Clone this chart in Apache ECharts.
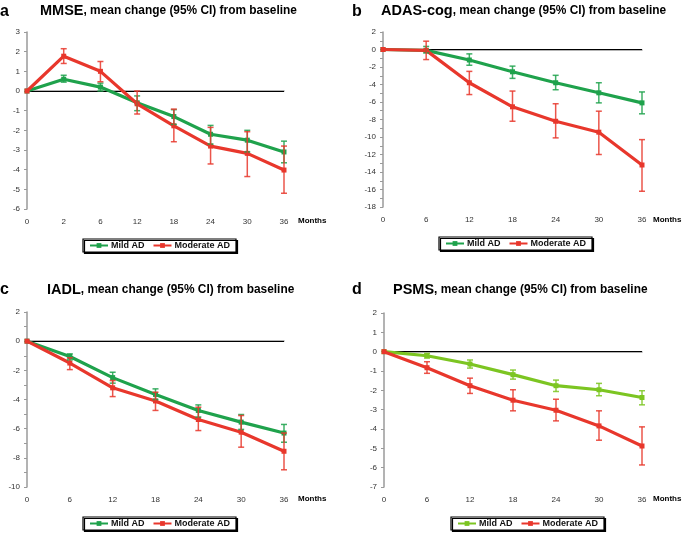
<!DOCTYPE html>
<html>
<head>
<meta charset="utf-8">
<script src="https://cdn.jsdelivr.net/npm/echarts@6/dist/echarts.min.js"></script>
<style>html,body{margin:0;padding:0;background:#fff}#c{width:685px;height:533px}</style>
</head>
<body>
<div id="c"></div>
<script>
// ---- categories (months) ----
const monthsA = ['0','2','6','12','18','24','30','36'];
const monthsB = ['0','6','12','18','24','30','36'];

// ---- a: MMSE ----
const mmseMild    = [0, 0.6, 0.2, -0.6, -1.3, -2.2, -2.5, -3.1];
const mmseMildLo  = [null, 0.45, 0.0, -1.0, -1.7, -2.7, -3.1, -3.65];
const mmseMildHi  = [null, 0.8, 0.4, -0.25, -0.95, -1.75, -2.0, -2.55];
const mmseMod     = [0, 1.77, 1.0, -0.65, -1.77, -2.8, -3.17, -4.02];
const mmseModLo   = [null, 1.4, 0.47, -1.17, -2.58, -3.71, -4.35, -5.2];
const mmseModHi   = [null, 2.15, 1.5, 0.0, -0.92, -1.85, -2.07, -2.8];

// ---- b: ADAS-cog ----
const adasMild    = [0, -0.1, -1.2, -2.55, -3.8, -4.95, -6.1];
const adasMildLo  = [null, -0.4, -1.8, -3.3, -4.6, -6.1, -7.35];
const adasMildHi  = [null, 0.35, -0.5, -1.9, -2.95, -3.8, -4.85];
const adasMod     = [0, -0.1, -3.8, -6.55, -8.2, -9.45, -13.2];
const adasModLo   = [null, -1.15, -5.15, -8.2, -10.1, -12.0, -16.2];
const adasModHi   = [null, 0.95, -2.5, -4.75, -6.2, -7.05, -10.3];

// ---- c: IADL ----
const iadlMild    = [0, -1.05, -2.5, -3.65, -4.75, -5.55, -6.3];
const iadlMildLo  = [null, -1.28, -2.88, -4.0, -5.2, -6.05, -6.93];
const iadlMildHi  = [null, -0.87, -2.13, -3.27, -4.37, -5.03, -5.71];
const iadlMod     = [0, -1.5, -3.2, -4.1, -5.37, -6.24, -7.55];
const iadlModLo   = [null, -1.95, -3.8, -4.75, -6.13, -7.27, -8.82];
const iadlModHi   = [null, -1.14, -2.7, -3.5, -4.53, -5.1, -6.3];

// ---- d: PSMS ----
const psmsMild    = [0, -0.21, -0.64, -1.19, -1.76, -1.97, -2.37];
const psmsMildLo  = [null, -0.33, -0.85, -1.42, -2.06, -2.28, -2.75];
const psmsMildHi  = [null, -0.09, -0.43, -0.95, -1.47, -1.64, -2.02];
const psmsMod     = [0, -0.83, -1.76, -2.51, -3.03, -3.84, -4.88];
const psmsModLo   = [null, -1.12, -2.16, -3.06, -3.58, -4.58, -5.86];
const psmsModHi   = [null, -0.52, -1.37, -1.97, -2.46, -3.06, -3.89];

// ---- y-axis ranges ----
const yRanges = [
  {min: -6, max: 3, interval: 1, minor: false},
  {min: -18, max: 2, interval: 2, minor: true},
  {min: -10, max: 2, interval: 2, minor: true},
  {min: -7, max: 2, interval: 1, minor: false}
];

const GREEN = '#1fa24c', GREEN_D = '#7cc522', RED = '#e8372c';
const FONT = 'Liberation Sans, Arial, sans-serif';

const panels = [
  {key:'a', cats: monthsA, mild: mmseMild, mildLo: mmseMildLo, mildHi: mmseMildHi, mod: mmseMod, modLo: mmseModLo, modHi: mmseModHi, green: GREEN},
  {key:'b', cats: monthsB, mild: adasMild, mildLo: adasMildLo, mildHi: adasMildHi, mod: adasMod, modLo: adasModLo, modHi: adasModHi, green: GREEN},
  {key:'c', cats: monthsB, mild: iadlMild, mildLo: iadlMildLo, mildHi: iadlMildHi, mod: iadlMod, modLo: iadlModLo, modHi: iadlModHi, green: GREEN},
  {key:'d', cats: monthsB, mild: psmsMild, mildLo: psmsMildLo, mildHi: psmsMildHi, mod: psmsMod, modLo: psmsModLo, modHi: psmsModHi, green: GREEN_D}
];

const grids = [
  {left: 27, top: 32, width: 257, height: 177},
  {left: 383, top: 32, width: 259, height: 175},
  {left: 27, top: 312, width: 257, height: 175},
  {left: 384, top: 313, width: 258, height: 174}
];

const legendPos = [
  {left: 83, top: 239},
  {left: 439, top: 237},
  {left: 83, top: 517},
  {left: 451, top: 517}
];

function ciData(lo, hi) {
  const out = [];
  lo.forEach((v, i) => { if (v !== null && hi[i] !== null) out.push([i, v, hi[i]]); });
  return out;
}

function errItem(params, api) {
  const x = api.value(0);
  const p1 = api.coord([x, api.value(1)]);
  const p2 = api.coord([x, api.value(2)]);
  const c = api.visual('color');
  const w = 3;
  const st = {stroke: c, lineWidth: 1.5, opacity: 0.85};
  return {type: 'group', children: [
    {type: 'line', shape: {x1: p1[0], y1: p1[1], x2: p2[0], y2: p2[1]}, style: st},
    {type: 'line', shape: {x1: p1[0]-w, y1: p1[1], x2: p1[0]+w, y2: p1[1]}, style: st},
    {type: 'line', shape: {x1: p2[0]-w, y1: p2[1], x2: p2[0]+w, y2: p2[1]}, style: st}
  ]};
}

const xAxis = [], yAxis = [], series = [], legend = [];
panels.forEach((p, i) => {
  xAxis.push({
    gridIndex: i, type: 'category', data: p.cats, boundaryGap: false,
    axisLine: {lineStyle: {color: '#9a9a9a', width: 1.5}},
    axisTick: {show: false},
    axisLabel: {fontSize: 8, color: '#333', margin: 9, fontFamily: FONT},
    splitLine: {show: false}
  });
  const yr = yRanges[i];
  yAxis.push({
    gridIndex: i, type: 'value', min: yr.min, max: yr.max, interval: yr.interval,
    axisLine: {show: true, lineStyle: {color: '#9a9a9a', width: 1.5}},
    axisTick: {show: true, length: 3, lineStyle: {color: '#9a9a9a'}},
    minorTick: {show: yr.minor, splitNumber: 2, length: 3, lineStyle: {color: '#9a9a9a'}},
    axisLabel: {fontSize: 8, color: '#333', margin: 7, fontFamily: FONT},
    splitLine: {show: false}
  });
  const mildName = 'Mild AD|' + p.key, modName = 'Moderate AD|' + p.key;
  series.push({
    name: mildName, type: 'line', xAxisIndex: i, yAxisIndex: i, data: p.mild,
    symbol: 'rect', symbolSize: 5, color: p.green,
    lineStyle: {width: 3.2, color: p.green}, itemStyle: {color: p.green},
    z: 3, silent: true,
    markLine: {silent: true, symbol: 'none', label: {show: false},
      lineStyle: {color: '#000', width: 1, type: 'solid'}, data: [{yAxis: 0}], z: 1}
  });
  series.push({
    name: modName, type: 'line', xAxisIndex: i, yAxisIndex: i, data: p.mod,
    symbol: 'rect', symbolSize: 5, color: RED,
    lineStyle: {width: 3.2, color: RED}, itemStyle: {color: RED},
    z: 4, silent: true
  });
  series.push({
    name: 'ci-mild-' + p.key, type: 'custom', xAxisIndex: i, yAxisIndex: i,
    renderItem: errItem, data: ciData(p.mildLo, p.mildHi), itemStyle: {color: p.green},
    encode: {x: 0, y: [1, 2]}, z: 5, silent: true
  });
  series.push({
    name: 'ci-mod-' + p.key, type: 'custom', xAxisIndex: i, yAxisIndex: i,
    renderItem: errItem, data: ciData(p.modLo, p.modHi), itemStyle: {color: RED},
    encode: {x: 0, y: [1, 2]}, z: 6, silent: true
  });
  legend.push({
    left: legendPos[i].left, top: legendPos[i].top,
    data: [mildName, modName],
    formatter: n => n.split('|')[0],
    itemWidth: 18, itemHeight: 6, itemGap: 8,
    padding: [2, 6, 2, 6],
    borderColor: '#000', borderWidth: 1.2, backgroundColor: '#fff',
    shadowColor: '#000', shadowOffsetX: 1.5, shadowOffsetY: 1.5, shadowBlur: 0,
    selectedMode: false,
    textStyle: {fontSize: 9, fontWeight: 'bold', color: '#111', fontFamily: FONT, padding: [0, 0, 0, -2]}
  });
});

const titles = [
  {letter: 'a', lx: 0, ly: 4, name: 'MMSE', nx: 40, ny: 3},
  {letter: 'b', lx: 352, ly: 4, name: 'ADAS-cog', nx: 381, ny: 3},
  {letter: 'c', lx: 0, ly: 282, name: 'IADL', nx: 47, ny: 282},
  {letter: 'd', lx: 352, ly: 282, name: 'PSMS', nx: 393, ny: 282}
];
const monthsLabelPos = [
  {x: 298, y: 222}, {x: 653, y: 221}, {x: 298, y: 500}, {x: 653, y: 500}
];

const graphic = [];
titles.forEach(t => {
  graphic.push({type: 'text', left: t.lx, top: t.ly, silent: true,
    style: {text: t.letter, font: 'bold 16px ' + FONT, fill: '#000'}});
  graphic.push({type: 'text', left: t.nx, top: t.ny, silent: true,
    style: {text: '{big|' + t.name + '}{small|, mean change (95% CI) from baseline}',
      rich: {
        big: {font: 'bold 14.5px ' + FONT, fill: '#000', verticalAlign: 'bottom'},
        small: {font: 'bold 11.9px ' + FONT, fill: '#000', verticalAlign: 'bottom', padding: [0, 0, 1, 0]}
      }}});
});
monthsLabelPos.forEach(m => {
  graphic.push({type: 'text', left: m.x, top: m.y - 5, silent: true,
    style: {text: 'Months', font: 'bold 8px ' + FONT, fill: '#000'}});
});

const chart = echarts.init(document.getElementById('c'), null, {renderer: 'canvas'});
chart.setOption({
  animation: false,
  backgroundColor: '#fff',
  grid: grids,
  xAxis, yAxis, series, legend, graphic
});
</script>
</body>
</html>
